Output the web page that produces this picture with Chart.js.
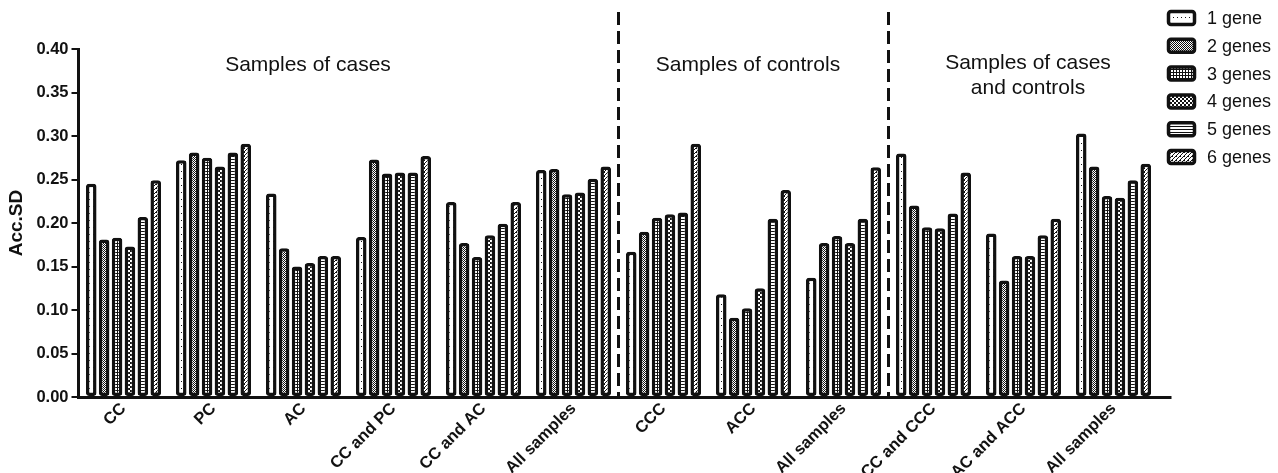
<!DOCTYPE html>
<html>
<head>
<meta charset="utf-8">
<script src="https://cdn.jsdelivr.net/npm/chart.js@4.4.1/dist/chart.umd.min.js"></script>
<style>
  body { margin: 0; background: #fff; }
  #wrap { width: 1278px; height: 473px; position: relative; }
</style>
</head>
<body>
<div id="wrap"><canvas id="barChart"></canvas></div>
<script>
// categories along the x axis
var categories = ['CC', 'PC', 'AC', 'CC and PC', 'CC and AC', 'All samples',
                  'CCC', 'ACC', 'All samples',
                  'CC and CCC', 'AC and ACC', 'All samples'];

// one series per number of genes
var seriesNames = ['1 gene', '2 genes', '3 genes', '4 genes', '5 genes', '6 genes'];
var gene1 = [0.245, 0.272, 0.234, 0.184, 0.224, 0.261, 0.167, 0.118, 0.137, 0.280, 0.188, 0.303];
var gene2 = [0.181, 0.281, 0.171, 0.273, 0.177, 0.262, 0.190, 0.091, 0.177, 0.220, 0.134, 0.265];
var gene3 = [0.183, 0.275, 0.150, 0.257, 0.161, 0.233, 0.206, 0.102, 0.185, 0.195, 0.162, 0.231];
var gene4 = [0.173, 0.265, 0.154, 0.258, 0.186, 0.235, 0.210, 0.125, 0.177, 0.194, 0.162, 0.229];
var gene5 = [0.207, 0.281, 0.162, 0.258, 0.199, 0.251, 0.212, 0.205, 0.205, 0.211, 0.186, 0.249];
var gene6 = [0.249, 0.291, 0.162, 0.277, 0.224, 0.265, 0.291, 0.238, 0.264, 0.258, 0.205, 0.268];

var yTickLabels = ['0.00', '0.05', '0.10', '0.15', '0.20', '0.25', '0.30', '0.35', '0.40'];

var FONT = 'Arial, "Liberation Sans", Helvetica, sans-serif';
var INK = '#111';

function makePattern(w, h, cells) {
    var c = document.createElement('canvas');
    c.width = w; c.height = h;
    var g = c.getContext('2d');
    g.fillStyle = '#fff';
    g.fillRect(0, 0, w, h);
    g.fillStyle = INK;
    cells.forEach(function (p) { g.fillRect(p[0], p[1], p[2] || 1, p[3] || 1); });
    return g.createPattern(c, 'repeat');
}

var patterns = [
    makePattern(4, 7, [[1, 3]]),                                   // dots
    makePattern(2, 2, [[0, 0], [1, 1]]),                           // fine checks
    makePattern(3, 3, [[0, 0, 3, 1], [0, 0, 1, 3]]),               // grid
    makePattern(4, 4, [[0, 0, 2, 2], [2, 2, 2, 2]]),               // big checks
    makePattern(1, 3, [[0, 0]]),                                   // horizontal lines
    makePattern(4, 4, [[3, 0], [2, 1], [1, 2], [0, 3], [0, 0]])    // diagonal hatch
];

var allSeries = [gene1, gene2, gene3, gene4, gene5, gene6];
var datasets = allSeries.map(function (vals, i) {
    return {
        label: seriesNames[i],
        data: vals,
        backgroundColor: patterns[i],
        borderColor: INK,
        borderWidth: 3.5,
        borderRadius: 3,
        borderSkipped: false,
        categoryPercentage: 0.86,
        barPercentage: 0.82
    };
});

// x axis line, dashed separators, group captions and the legend
var extras = {
    id: 'extras',
    afterDatasetsDraw: function (chart) {
        var ctx = chart.ctx, x = chart.scales.x, area = chart.chartArea;
        ctx.save();

        // x axis runs a little past the last group
        ctx.strokeStyle = INK;
        ctx.lineWidth = 3;
        ctx.beginPath();
        ctx.moveTo(area.left - 1.5, area.bottom + 0.5);
        ctx.lineTo(area.right + 13, area.bottom + 0.5);
        ctx.stroke();

        ctx.setLineDash([13, 6]);
        [5, 8].forEach(function (i) {
            var px = (x.getPixelForValue(i) + x.getPixelForValue(i + 1)) / 2;
            ctx.beginPath();
            ctx.moveTo(px, 12);
            ctx.lineTo(px, area.bottom);
            ctx.stroke();
        });
        ctx.setLineDash([]);

        ctx.fillStyle = INK;
        ctx.font = '21px ' + FONT;
        ctx.textAlign = 'center';
        ctx.textBaseline = 'middle';
        ctx.fillText('Samples of cases', 308, 65);
        ctx.fillText('Samples of controls', 748, 65);
        ctx.fillText('Samples of cases', 1028, 63);
        ctx.fillText('and controls', 1028, 88);

        // legend
        ctx.textAlign = 'left';
        ctx.font = '18px ' + FONT;
        chart.data.datasets.forEach(function (ds, i) {
            var cy = 18 + i * 27.8;
            ctx.beginPath();
            ctx.roundRect(1168.5, cy - 6.5, 26, 13, 2.5);
            ctx.fillStyle = ds.backgroundColor;
            ctx.fill();
            ctx.lineWidth = 3.5;
            ctx.strokeStyle = INK;
            ctx.stroke();
            ctx.fillStyle = INK;
            ctx.fillText(ds.label, 1207, cy + 1);
        });
        ctx.restore();
    }
};

var ctx = document.getElementById('barChart').getContext('2d');
new Chart(ctx, {
    type: 'bar',
    data: { labels: categories, datasets: datasets },
    options: {
        responsive: true,
        maintainAspectRatio: false,
        animation: false,
        layout: { padding: { left: 0, right: 119.5, top: 49, bottom: 0 } },
        plugins: { legend: { display: false }, tooltip: { enabled: false } },
        scales: {
            x: {
                grid: { display: false },
                border: { display: false },
                ticks: {
                    color: INK,
                    font: { family: FONT, size: 16.5, weight: 'bold' },
                    minRotation: 45, maxRotation: 45,
                    autoSkip: false,
                    padding: -6
                },
                afterFit: function (s) { s.height = 76; }
            },
            y: {
                min: 0, max: 0.4,
                grid: { drawOnChartArea: false, drawTicks: true, tickLength: 7, color: INK, lineWidth: 2 },
                border: { display: true, width: 3, color: INK },
                ticks: {
                    stepSize: 0.05,
                    color: INK,
                    padding: 3,
                    font: { family: FONT, size: 16.5, weight: 'bold' },
                    callback: function (v, i) { return yTickLabels[i]; }
                },
                title: {
                    display: true, text: 'Acc.SD', color: INK,
                    font: { family: FONT, size: 19, weight: 'bold' },
                    padding: { top: 5, bottom: 0 }
                },
                afterFit: function (s) { s.width = 78.5; }
            }
        }
    },
    plugins: [extras]
});
</script>
</body>
</html>
